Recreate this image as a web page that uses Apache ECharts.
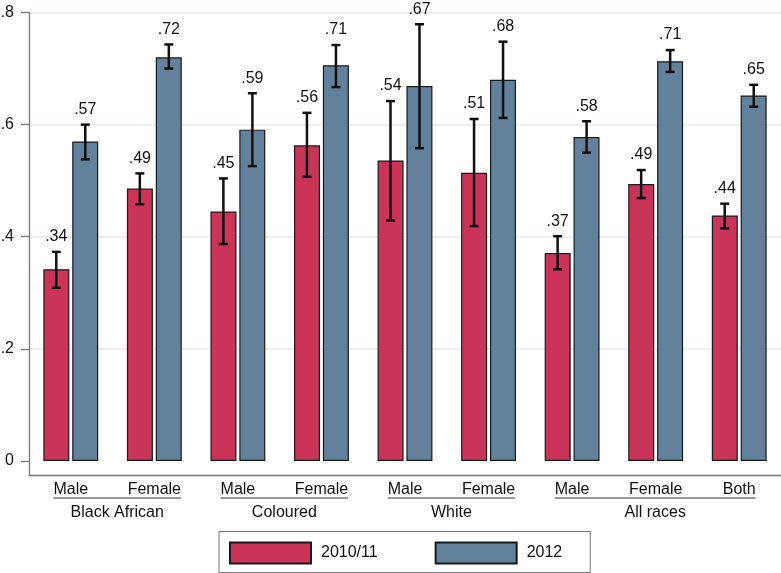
<!DOCTYPE html>
<html><head><meta charset="utf-8">
<script src="https://cdn.jsdelivr.net/npm/echarts@6/dist/echarts.min.js"></script>
<style>html,body{margin:0;padding:0;background:#fff}#c{width:781px;height:573px}</style>
</head><body><div id="c"></div>
<script>
const categories = ['Male','Female','Male','Female','Male','Female','Male','Female','Both'];
const groupNames = ['Black African','Coloured','White','All races'];
const groupFirst = [0,2,4,6];
const groupLast = [1,3,5,8];
const seriesNames = ['2010/11','2012'];
const mean2010 = [0.342,0.486,0.445,0.563,0.536,0.514,0.371,0.494,0.438];
const low2010  = [0.309,0.458,0.387,0.507,0.429,0.419,0.342,0.469,0.415];
const high2010 = [0.373,0.513,0.504,0.621,0.642,0.610,0.401,0.519,0.459];
const mean2012 = [0.570,0.720,0.591,0.706,0.669,0.680,0.578,0.713,0.652];
const low2012  = [0.538,0.700,0.526,0.667,0.558,0.612,0.550,0.694,0.632];
const high2012 = [0.600,0.743,0.656,0.742,0.779,0.748,0.606,0.733,0.671];
const yTicks = [0,0.2,0.4,0.6,0.8];

const FONT = '"Liberation Sans", Arial, Helvetica, sans-serif';
const TXT = '#111';
const AXIS = '#777';
const RED = '#cb3459';
const BLUE = '#63819a';

function fmt(v){ return v === 0 ? '0' : v.toFixed(2).replace(/^0/, ''); }
function fmtTick(v){ return v === 0 ? '0' : String(+v.toFixed(2)).replace(/^0/, ''); }

const ctx = document.createElement('canvas').getContext('2d');
ctx.font = '16px "Liberation Sans"';
function textW(s){ return ctx.measureText(s).width; }

function errRender(offset){
  return function(params, api){
    const i = api.value(0);
    const lo = api.coord([i, api.value(1)]);
    const hi = api.coord([i, api.value(2)]);
    const x = lo[0] + offset;
    const cap = 4.5;
    const st = {stroke:'#111', lineWidth:2.5};
    return {type:'group', children:[
      {type:'line', shape:{x1:x, y1:lo[1], x2:x, y2:hi[1]}, style:st},
      {type:'line', shape:{x1:x-cap, y1:lo[1], x2:x+cap, y2:lo[1]}, style:st},
      {type:'line', shape:{x1:x-cap, y1:hi[1], x2:x+cap, y2:hi[1]}, style:st},
      {type:'text', x:x, y:hi[1]-15, style:{text:fmt(api.value(3)), fontSize:16, fontFamily:FONT, fill:TXT, align:'center', verticalAlign:'middle'}}
    ]};
  };
}

function groupRender(params, api){
  const f = api.value(0), l = api.value(1), g = api.value(2);
  const p1 = api.coord([f, 0]), p2 = api.coord([l, 0]);
  const x1 = p1[0] - textW(categories[f]) / 2;
  const x2 = p2[0] + textW(categories[l]) / 2;
  const y = p1[1] + 37;
  return {type:'group', children:[
    {type:'line', shape:{x1:x1, y1:y, x2:x2, y2:y}, style:{stroke:AXIS, lineWidth:1.5}},
    {type:'text', x:(x1+x2)/2, y:p1[1]+52, style:{text:groupNames[g], fontSize:16, fontFamily:FONT, fill:TXT, align:'center', verticalAlign:'middle'}}
  ]};
}

const err2010 = categories.map((c,i)=>[i, low2010[i], high2010[i], mean2010[i]]);
const err2012 = categories.map((c,i)=>[i, low2012[i], high2012[i], mean2012[i]]);
const groupData = groupNames.map((g,k)=>[groupFirst[k], groupLast[k], k, 0]);

const chart = echarts.init(document.getElementById('c'), null, {renderer:'canvas'});
chart.setOption({
  animation:false,
  backgroundColor:'#fff',
  textStyle:{fontFamily:FONT},
  grid:{left:29, right:0, top:12.5, bottom:98, containLabel:false, outerBoundsMode:'none'},
  legend:{
    data:seriesNames, left:219, top:531.5, orient:'horizontal',
    itemWidth:81, itemHeight:21, itemGap:57,
    padding:[10,28,8,10], borderColor:AXIS, borderWidth:1, icon:'rect',
    textStyle:{fontSize:16, lineHeight:18, color:TXT, fontFamily:FONT, padding:[0,0,0,5]}
  },
  xAxis:{
    type:'category', data:categories,
    axisLine:{onZero:false, lineStyle:{color:AXIS, width:1.3}},
    axisTick:{show:false},
    axisLabel:{fontSize:16, color:TXT, fontFamily:FONT, margin:7, interval:0}
  },
  yAxis:{
    type:'value', min:-0.025, max:0.8,
    axisLine:{show:true, lineStyle:{color:AXIS, width:1.3}},
    axisTick:{show:true, length:8, customValues:yTicks, lineStyle:{color:AXIS, width:1.3}},
    axisLabel:{customValues:yTicks, fontSize:16, color:TXT, fontFamily:FONT, margin:15, formatter:fmtTick},
    splitLine:{show:true, lineStyle:{color:['rgba(0,0,0,0)','#e3eaed','#e3eaed','#e3eaed','#e3eaed'], width:1.5}}
  },
  series:[
    {name:seriesNames[0], type:'bar', data:mean2010, barWidth:26, barGap:'11%',
     itemStyle:{color:RED, borderColor:'#1a1a1a', borderWidth:1.2}},
    {name:seriesNames[1], type:'bar', data:mean2012, barWidth:26, barGap:'11%',
     itemStyle:{color:BLUE, borderColor:'#1a1a1a', borderWidth:1.2}},
    {name:'ci2010', type:'custom', data:err2010, renderItem:errRender(-14.5), clip:false, encode:{x:0, y:[1,2]}, z:5},
    {name:'ci2012', type:'custom', data:err2012, renderItem:errRender(14.5), clip:false, encode:{x:0, y:[1,2]}, z:5},
    {name:'groups', type:'custom', data:groupData, renderItem:groupRender, clip:false, encode:{x:0, y:3}, z:5}
  ]
});
</script>
</body></html>
